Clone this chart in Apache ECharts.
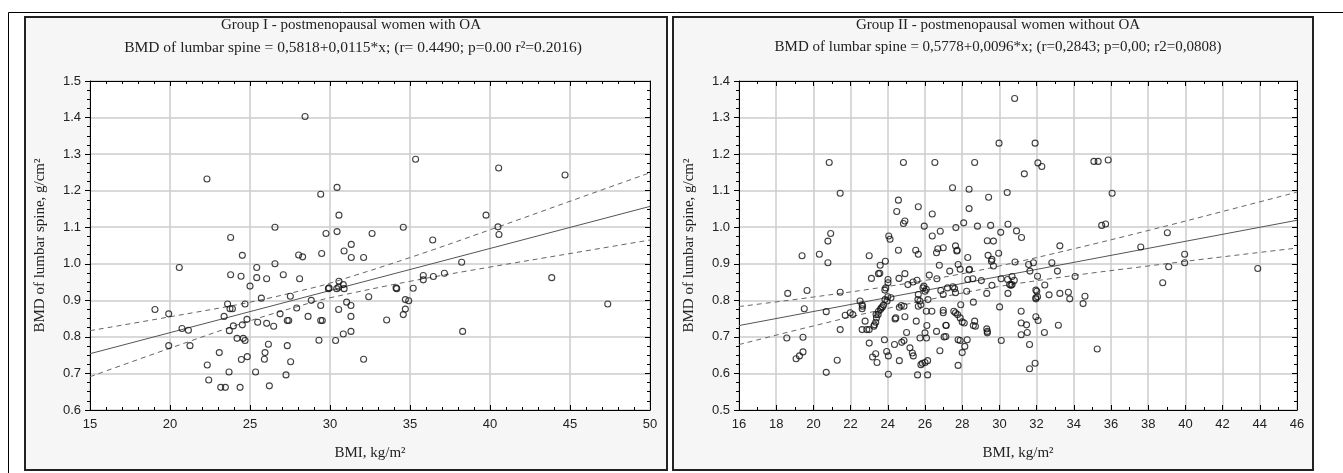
<!DOCTYPE html>
<html>
<head>
<meta charset="utf-8">
<script src="https://cdn.jsdelivr.net/npm/echarts@6/dist/echarts.min.js"></script>
<style>html,body{margin:0;padding:0;background:#fff;}#c{width:1343px;height:473px;}</style>
</head>
<body>
<div id="c"></div>
<script>
// ---------- Data ----------
const titleA = 'Group I - postmenopausal women with OA';
const subA = 'BMD of lumbar spine = 0,5818+0,0115*x; (r= 0.4490; p=0.00 r\u00B2=0.2016)';
const titleB = 'Group II - postmenopausal women without OA';
const subB = 'BMD of lumbar spine = 0,5778+0,0096*x; (r=0,2843; p=0,00; r2=0,0808)';
const xNameA = 'BMI, kg/m\u00B2';
const yNameA = 'BMD of lumbar spine, g/cm\u00B2';

// Group I scatter [BMI, BMD]
const pointsA = [
[28.44,1.403],[22.31,1.232],[30.44,1.209],[29.42,1.19],[30.56,1.133],[26.56,1.10],[23.79,1.072],[29.75,1.083],[30.44,1.088],[32.63,1.083],
[31.33,1.053],[30.88,1.035],[31.33,1.017],[32.1,1.017],[29.48,1.028],[24.52,1.023],[28.04,1.024],[28.29,1.019],[26.56,1.0],[20.58,0.99],
[25.42,0.99],[23.79,0.97],[24.44,0.966],[25.42,0.962],[26.04,0.959],[27.08,0.97],[28.1,0.959],[25.0,0.939],[30.56,0.952],[30.83,0.943],
[35.35,1.286],[40.54,1.262],[44.69,1.243],[34.58,1.10],[36.42,1.065],[39.75,1.133],[40.5,1.101],[40.56,1.08],[38.23,1.004],[43.86,0.962],
[35.83,0.968],[35.83,0.956],[36.46,0.965],[37.15,0.974],[34.17,0.932],[35.2,0.933],[29.9,0.932],[30.42,0.932],
[19.06,0.875],[19.92,0.863],[19.92,0.776],[20.75,0.823],[21.15,0.818],[21.25,0.776],[23.6,0.89],[23.75,0.877],[23.9,0.877],[24.69,0.89],
[23.38,0.856],[24.81,0.848],[23.96,0.83],[24.52,0.833],[23.71,0.817],[24.19,0.796],[24.58,0.796],[24.69,0.79],[25.71,0.906],[25.48,0.84],
[26.04,0.837],[26.48,0.829],[26.15,0.78],[25.94,0.757],[25.9,0.739],[24.46,0.738],[24.83,0.746],[23.08,0.757],[22.33,0.723],[22.42,0.682],
[23.69,0.704],[25.35,0.704],[23.17,0.662],[23.46,0.662],[24.38,0.662],[26.21,0.666],[27.25,0.696],[27.54,0.732],[27.33,0.776],[26.88,0.863],
[27.33,0.845],[27.42,0.845],[27.52,0.911],[27.92,0.879],[28.63,0.856],[28.83,0.9],[29.42,0.886],[29.42,0.845],[29.52,0.845],[29.31,0.791],
[29.94,0.934],[30.54,0.936],[30.88,0.932],[30.54,0.875],[31.04,0.895],[31.31,0.886],[31.31,0.856],[31.31,0.815],[30.83,0.808],[30.35,0.79],
[32.1,0.739],[32.42,0.91],[33.54,0.846],[34.13,0.934],[47.36,0.89],[38.29,0.815],[34.71,0.902],[34.92,0.899],[34.71,0.876],[34.58,0.861]
];
// Group I fitted line and 95% band
const fitA = [[15,0.754],[50,1.157]];
const bandXA = [15,20,25,29,30,35,40,45,50];
const upperA = [0.817,0.855,0.895,0.935,0.947,1.017,1.093,1.171,1.249];
const lowerA = [0.691,0.769,0.844,0.896,0.907,0.952,0.991,1.028,1.065];

// Group II scatter [BMI, BMD]
const pointsB = [
[29.98,1.23],[20.85,1.177],[24.84,1.177],[26.53,1.177],[28.67,1.177],[21.44,1.093],[27.48,1.108],[28.37,1.104],[29.42,1.082],[30.42,1.095],
[28.37,1.051],[24.57,1.074],[24.48,1.043],[25.64,1.056],[26.39,1.036],[24.84,1.01],[24.92,1.017],[25.96,1.003],[27.66,0.999],[28.08,1.012],
[28.82,1.003],[29.53,1.005],[30.46,1.008],[30.07,0.986],[24.05,0.976],[24.12,0.967],[20.93,0.983],[20.78,0.962],[26.39,0.976],[26.82,0.989],
[29.35,0.963],[29.68,0.962],[19.39,0.922],[20.32,0.926],[20.78,0.903],[23.0,0.922],[24.57,0.937],[25.5,0.937],[25.64,0.926],[26.62,0.93],
[26.98,0.944],[27.64,0.949],[27.73,0.937],[28.3,0.917],[29.39,0.923],[29.57,0.907],[29.68,0.894],[29.96,0.929],[23.59,0.896],[23.87,0.907],
[26.77,0.896],[27.78,0.898],[27.33,0.88],[27.89,0.885],[28.37,0.883],[23.5,0.873],[24.92,0.873],[26.23,0.869],
[30.82,1.352],[31.92,1.23],[32.07,1.176],[32.28,1.166],[31.34,1.146],[35.08,1.18],[35.31,1.18],[35.85,1.184],[36.06,1.093],[30.92,0.99],
[31.19,0.972],[35.5,1.005],[35.71,1.009],[39.03,0.985],[33.25,0.949],[30.84,0.905],[31.57,0.898],[31.83,0.903],[32.82,0.903],[31.64,0.88],
[32.05,0.866],[33.12,0.88],[34.07,0.865],[37.6,0.946],[39.1,0.892],[39.96,0.926],[39.96,0.903],[43.89,0.887],
[18.62,0.819],[19.66,0.827],[19.51,0.777],[18.57,0.697],[19.44,0.699],[19.07,0.64],[19.25,0.648],[19.44,0.659],[20.69,0.603],[20.69,0.769],
[21.44,0.822],[21.44,0.72],[21.28,0.636],[21.71,0.759],[21.98,0.766],[22.12,0.761],[22.51,0.798],[22.62,0.777],[22.62,0.788],[22.78,0.743],
[22.62,0.72],[22.87,0.72],[23.0,0.72],[23.0,0.683],[23.18,0.645],[23.35,0.654],[23.42,0.63],[23.28,0.733],[23.37,0.761],[23.5,0.77],
[23.64,0.779],[23.77,0.787],[23.82,0.692],[23.94,0.66],[24.03,0.648],[24.03,0.598],[23.85,0.802],[24.0,0.81],[24.17,0.807],[24.36,0.679],
[24.39,0.749],[24.62,0.781],[24.62,0.635],[24.75,0.685],[24.87,0.69],[24.92,0.755],[25.01,0.712],[24.87,0.784],[25.19,0.67],[25.32,0.656],
[25.37,0.648],[25.53,0.743],[25.6,0.596],[25.64,0.816],[25.73,0.798],[25.64,0.784],[25.78,0.788],[25.78,0.624],[25.86,0.628],[26.0,0.63],
[26.14,0.635],[25.73,0.697],[26.0,0.711],[26.08,0.697],[25.94,0.839],[26.0,0.825],[26.16,0.802],[26.07,0.77],[26.37,0.77],[26.14,0.596],
[26.62,0.715],[26.8,0.662],[26.85,0.827],[26.98,0.816],[26.98,0.773],[26.98,0.766],[27.03,0.7],[27.12,0.701],[27.12,0.732],[27.21,0.834],
[27.64,0.821],[27.64,0.766],[27.75,0.761],[27.89,0.752],[28.0,0.741],[27.78,0.622],[27.78,0.692],[27.89,0.69],[27.92,0.788],[28.0,0.657],
[28.14,0.674],[28.27,0.692],[28.11,0.738],[28.24,0.825],[28.6,0.795],[28.67,0.743],[28.71,0.729],[29.32,0.819],[29.32,0.722],[29.35,0.715],
[29.35,0.711],[30.01,0.782],[30.1,0.69],[30.46,0.819],[29.6,0.841],[30.55,0.843],
[38.78,0.848],[35.26,0.667],[31.96,0.755],[32.08,0.745],[31.17,0.77],[31.17,0.738],[31.46,0.733],[31.17,0.706],[31.5,0.712],[31.62,0.679],
[31.62,0.613],[31.92,0.628],[32.42,0.712],[33.17,0.732],[31.96,0.807],[32.01,0.825],[32.67,0.815],[32.44,0.842],[33.25,0.819],[33.71,0.822],
[33.78,0.804],[34.5,0.791],[34.6,0.811],[30.68,0.843],
[26.69,0.941],[27.71,0.935],[29.6,0.912],[23.57,0.874],[23.12,0.86],[24.01,0.857],[24.01,0.848],[23.89,0.834],[23.84,0.828],[24.6,0.86],
[25.08,0.843],[25.57,0.855],[25.36,0.85],[25.89,0.834],[26.07,0.83],[28.39,0.885],[28.3,0.857],[28.57,0.859],[29.03,0.854],[26.64,0.859],
[27.59,0.832],[27.5,0.837],[22.64,0.784],[23.96,0.798],[23.71,0.782],[23.6,0.775],[23.48,0.761],[23.39,0.752],[23.35,0.74],[23.25,0.729],
[24.73,0.786],[24.43,0.752],[25.62,0.802],[26.1,0.731],[27.14,0.731],[27.55,0.77],[28.6,0.731],
[31.96,0.828],[31.96,0.804],[32.05,0.81],[30.09,0.859],[30.44,0.857],[30.68,0.865],[30.8,0.855],[30.62,0.841]
];
const fitB = [[16,0.731],[46,1.019]];
const bandXB = [16,20,24,27.5,30,34,38,42,46];
const upperB = [0.783,0.809,0.838,0.868,0.894,0.941,0.991,1.043,1.096];
const lowerB = [0.679,0.730,0.778,0.815,0.838,0.868,0.894,0.919,0.943];

// ---------- Chart ----------
const serif = 'Liberation Serif';
const sans = 'Liberation Sans';
const chart = echarts.init(document.getElementById('c'), null, {renderer: 'canvas'});

function zip(xs, ys) { return xs.map((x, i) => [x, ys[i]]); }

const gridA = {left: 90, top: 81, width: 560, height: 329};
const gridB = {left: 739, top: 81, width: 558, height: 329};

function xAx(gi, min, max, interval, minorSplit, pos, showLabels, name) {
  return {
    type: 'value', gridIndex: gi, position: pos, min, max, interval,
    axisLine: {show: true, onZero: false, lineStyle: {color: '#000', width: 1}},
    axisTick: {show: true, inside: true, length: 5, lineStyle: {color: '#000'}},
    minorTick: {show: true, splitNumber: minorSplit, length: 3, lineStyle: {color: '#000'}},
    axisLabel: {show: showLabels, color: '#222', fontFamily: sans, fontSize: 13, margin: 8},
    splitLine: {show: showLabels, lineStyle: {color: '#cccccc', width: 1.5}},
    name: showLabels ? name : '', nameLocation: 'middle', nameGap: 36,
    nameTextStyle: {fontFamily: serif, fontSize: 15, color: '#222'}
  };
}
function yAx(gi, min, max, interval, minorSplit, pos, showLabels, name) {
  return {
    type: 'value', gridIndex: gi, position: pos, min, max, interval,
    axisLine: {show: true, onZero: false, lineStyle: {color: '#000', width: 1}},
    axisTick: {show: true, inside: !showLabels, length: 5, lineStyle: {color: '#000'}},
    minorTick: {show: true, splitNumber: minorSplit, length: 3, lineStyle: {color: '#000'}},
    axisLabel: {show: showLabels, color: '#222', fontFamily: sans, fontSize: 13, margin: 9,
      formatter: v => v.toFixed(1)},
    splitLine: {show: showLabels, lineStyle: {color: '#cccccc', width: 1.5}},
    name: showLabels ? name : '', nameLocation: 'middle', nameGap: 42, nameRotate: 90,
    nameTextStyle: {fontFamily: serif, fontSize: 15, color: '#222'}
  };
}

const scatterStyle = {color: 'rgba(0,0,0,0)', borderColor: '#111', borderWidth: 1.1};
function lineS(data, xi, yi, dashed) {
  return {type: 'line', data, xAxisIndex: xi, yAxisIndex: yi, symbol: 'none', smooth: dashed ? 0.4 : false,
    silent: true, z: 2,
    lineStyle: {color: dashed ? '#666' : '#555', width: 1, type: dashed ? [5, 4] : 'solid'}};
}

const option = {
  animation: false,
  backgroundColor: '#fff',
  graphic: [
    {type: 'rect', shape: {x: 8.5, y: 12.5, width: 1400, height: 500}, style: {fill: '#fff', stroke: '#000', lineWidth: 1}, z: -10},
    {type: 'rect', shape: {x: 25, y: 17, width: 642, height: 453}, style: {fill: '#f6f6f6', stroke: '#222', lineWidth: 2}, z: -9},
    {type: 'rect', shape: {x: 673, y: 17, width: 640, height: 453}, style: {fill: '#f6f6f6', stroke: '#222', lineWidth: 2}, z: -9}
  ],
  title: [
    {text: titleA, left: 346, top: 13, textAlign: 'center', textStyle: {fontFamily: serif, fontSize: 15, fontWeight: 'normal', color: '#222'}},
    {text: subA, left: 348, top: 35, textAlign: 'center', textStyle: {fontFamily: serif, fontSize: 15.5, fontWeight: 'normal', color: '#222'}},
    {text: titleB, left: 993, top: 13, textAlign: 'center', textStyle: {fontFamily: serif, fontSize: 15, fontWeight: 'normal', color: '#222'}},
    {text: subB, left: 993, top: 35, textAlign: 'center', textStyle: {fontFamily: serif, fontSize: 15, fontWeight: 'normal', color: '#222'}}
  ],
  grid: [
    Object.assign({show: true, backgroundColor: '#fff', borderWidth: 0}, gridA),
    Object.assign({show: true, backgroundColor: '#fff', borderWidth: 0}, gridB)
  ],
  xAxis: [
    xAx(0, 15, 50, 5, 5, 'bottom', true, xNameA),
    xAx(0, 15, 50, 5, 5, 'top', false, ''),
    xAx(1, 16, 46, 2, 2, 'bottom', true, xNameA),
    xAx(1, 16, 46, 2, 2, 'top', false, '')
  ],
  yAxis: [
    yAx(0, 0.6, 1.5, 0.1, 4, 'left', true, yNameA),
    yAx(0, 0.6, 1.5, 0.1, 4, 'right', false, ''),
    yAx(1, 0.5, 1.4, 0.1, 4, 'left', true, yNameA),
    yAx(1, 0.5, 1.4, 0.1, 4, 'right', false, '')
  ],
  series: [
    lineS(fitA, 0, 0, false),
    lineS(zip(bandXA, upperA), 0, 0, true),
    lineS(zip(bandXA, lowerA), 0, 0, true),
    {type: 'scatter', data: pointsA, xAxisIndex: 0, yAxisIndex: 0, symbol: 'circle', symbolSize: 6, itemStyle: scatterStyle, z: 3},
    lineS(fitB, 2, 2, false),
    lineS(zip(bandXB, upperB), 2, 2, true),
    lineS(zip(bandXB, lowerB), 2, 2, true),
    {type: 'scatter', data: pointsB, xAxisIndex: 2, yAxisIndex: 2, symbol: 'circle', symbolSize: 6, itemStyle: scatterStyle, z: 3}
  ]
};
chart.setOption(option);
</script>
</body>
</html>
